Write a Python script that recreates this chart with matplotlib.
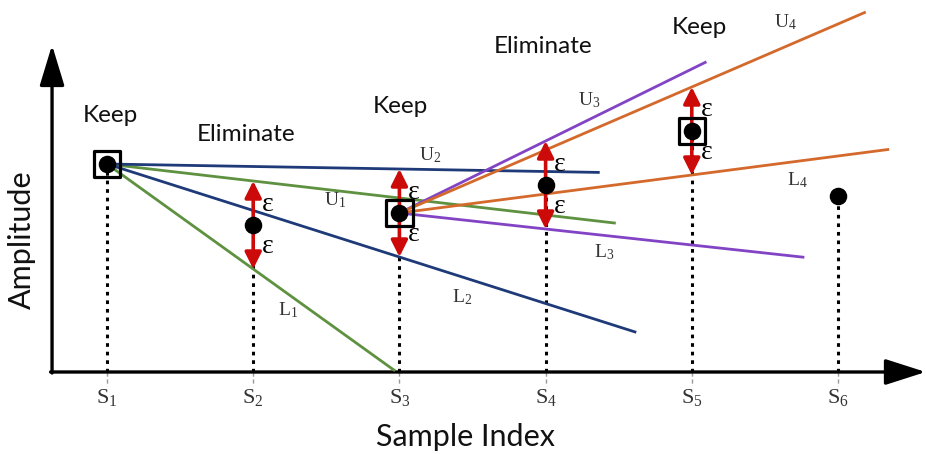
import matplotlib
matplotlib.use('Agg')
import matplotlib.pyplot as plt


# ── data ─────────────────────────────────────────────────────────────────────

sample_idx = [1, 2, 3, 4, 5, 6]
amplitude  = [20.8, 14.7, 15.9, 18.7, 24.1, 17.6]
sample_labels = [r'$\mathrm{S}_{%d}$' % i for i in sample_idx]
EPS = 4.4

# which samples are kept (boxed) and the decision written above each one
kept      = [1, 3, 5]
decisions = {1: 'Keep', 2: 'Eliminate', 3: 'Keep', 4: 'Eliminate', 5: 'Keep'}

# swing-door bounds: (name, pivot sample, target sample, +1 upper / -1 lower, end index)
doors = [
    ('U1', 1, 2, +1, 4.48),
    ('L1', 1, 2, -1, 2.97),
    ('U2', 1, 3, +1, 4.37),
    ('L2', 1, 3, -1, 4.62),
    ('U3', 3, 4, +1, 5.10),
    ('L3', 3, 4, -1, 5.77),
    ('U4', 3, 5, +1, 6.19),
    ('L4', 3, 5, -1, 6.35),
]


# ── palette ──────────────────────────────────────────────────────────────────

C_NAVY   = '#1f3a78'
C_GREEN  = '#5e9140'
C_PURPLE = '#8244c4'
C_ORANGE = '#d4692c'
C_RED    = '#cc0a0a'
C_LABEL  = '#333333'

door_color = {'1': C_GREEN, '2': C_NAVY, '3': C_PURPLE, '4': C_ORANGE}

# where each bound's name is written (index, amplitude)
door_label_pos = {
    'U1': (2.56, 17.2), 'L1': (2.24, 6.2),
    'U2': (3.21, 21.7), 'L2': (3.43, 7.5),
    'U3': (4.30, 27.2), 'L3': (4.40, 12.0),
    'U4': (5.64, 35.0), 'L4': (5.72, 19.2),
}
decision_pos = {1: (1.02, 25.7), 2: (1.95, 23.8), 3: (3.01, 26.6),
                4: (3.98, 32.6), 5: (5.05, 34.5)}


plt.rcParams['mathtext.fontset'] = 'custom'
plt.rcParams['mathtext.rm'] = 'Liberation Serif'
plt.rcParams['mathtext.it'] = 'Liberation Serif:italic'

fig = plt.figure(figsize=(9.26, 4.54), dpi=100)
ax = fig.add_axes([0, 0, 1, 1])
ax.set_xlim(0.268, 6.602)
ax.set_ylim(-8.2, 37.2)
ax.axis('off')

amp = dict(zip(sample_idx, amplitude))

# axes with arrow heads
x0, y0 = 0.624, 0.0
ax.annotate('', xy=(6.60, y0), xytext=(x0 - 0.01, y0),
            arrowprops=dict(arrowstyle='-|>,head_length=1.25,head_width=0.4',
                            lw=2.4, color='black', mutation_scale=20,
                            shrinkA=0, shrinkB=0))
ax.annotate('', xy=(x0, 32.7), xytext=(x0, y0 - 0.1),
            arrowprops=dict(arrowstyle='-|>,head_length=1.25,head_width=0.38',
                            lw=2.4, color='black', mutation_scale=20,
                            shrinkA=0, shrinkB=0))

ax.text(3.45, -6.5, 'Sample Index', fontsize=22, family='Lato',
        ha='center', va='center', color='#111111')
ax.text(0.42, 13.2, 'Amplitude', fontsize=22, family='Lato', rotation=90,
        ha='center', va='center', color='#111111')

# stems and sample ticks
for i in sample_idx:
    ax.plot([i, i], [0, amp[i]], color='black', lw=2.2, ls=(0, (1.2, 1.6)),
            zorder=2)
    ax.plot([i, i], [0, -1.4], color='#999999', lw=1.0, ls=(0, (3, 2)),
            zorder=2)
    ax.text(i, -2.6, sample_labels[i - 1], fontsize=16, ha='center',
            va='center', color=C_LABEL)

# swing-door bounds
for name, p, t, sign, x_end in doors:
    slope = (amp[t] + sign * EPS - amp[p]) / (t - p)
    ax.plot([p, x_end], [amp[p], amp[p] + slope * (x_end - p)],
            color=door_color[name[1]], lw=2.0, zorder=3, solid_capstyle='butt')
    lx, ly = door_label_pos[name]
    ax.text(lx, ly, r'$\mathrm{%s}_{%s}$' % (name[0], name[1]), fontsize=14,
            ha='center', va='center', color=C_LABEL)

# epsilon tolerance arrows
for i in sample_idx[1:5]:
    ax.annotate('', xy=(i, amp[i] + EPS), xytext=(i, amp[i] - EPS),
                arrowprops=dict(arrowstyle='<|-|>,head_length=1.0,head_width=0.5',
                                lw=2.6, color=C_RED, mutation_scale=10,
                                shrinkA=0, shrinkB=0), zorder=4)
    for sgn in (+1, -1):
        ax.text(i + 0.1, amp[i] + sgn * 2.1, 'ε', fontsize=20,
                ha='center', va='center', color='black', zorder=5,
                family='Liberation Serif')

# samples
ax.scatter(sample_idx, amplitude, s=135, color='black', zorder=6)
ax.scatter(kept, [amp[i] for i in kept], s=360, marker='s',
           facecolor='none', edgecolor='black', linewidths=2.3, zorder=6)

for i, word in decisions.items():
    x, y = decision_pos[i]
    ax.text(x, y, word, fontsize=17.5, family='Lato', ha='center', va='center',
            color='#111111')

fig.savefig('out.png', dpi=100, facecolor='white')
